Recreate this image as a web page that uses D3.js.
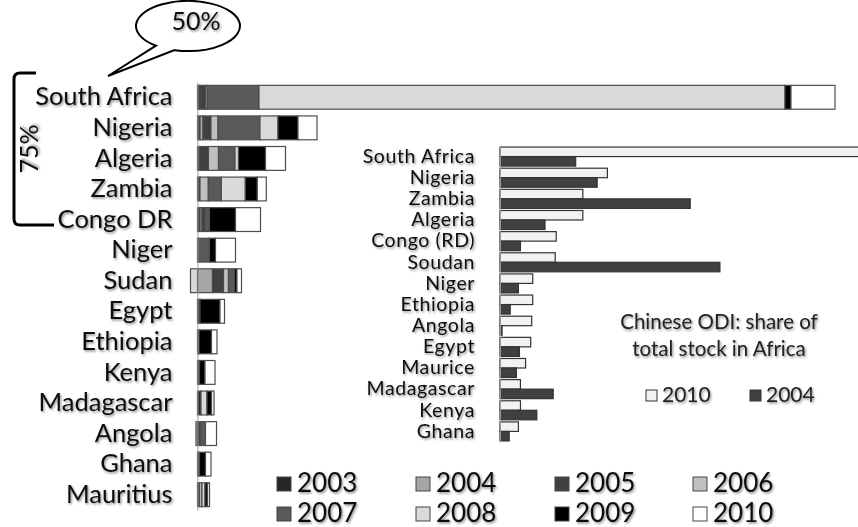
<!DOCTYPE html>
<html><head><meta charset="utf-8">
<script src="https://cdn.jsdelivr.net/npm/d3@7"></script>
<style>
body{margin:0;background:#fff;}
svg{display:block;font-family:Lato, "Open Sans", sans-serif;}
</style></head>
<body><div id="chart"></div>
<script>
// ---- main chart data (share units, stacked by year) ----
const countries = ["South Africa","Nigeria","Algeria","Zambia","Congo DR","Niger","Sudan","Egypt","Ethiopia","Kenya","Madagascar","Angola","Ghana","Mauritius"];
const years = ["2003","2004","2005","2006","2007","2008","2009","2010"];
const v2003 = [2.5, 2.5, 2,   2.5, 2.5, 1,  0,   2.5, 1.5, 2,   3.5, 0,    2,   2];
const v2004 = [0,   3,   0,   0,   2,   0,  15,  0,   0,   0,   0,   0,    0,   0];
const v2005 = [5.7, 8,   9,   0,   3,   0,  11,  0,   0,   0,   0,   3,    0,   0];
const v2006 = [1.6, 7,   10,  8.3, 0,   0,  5,   0,   0,   0,   0,   -1.5, 0,   2.5];
const v2007 = [51.7,42,  16.5,13,  4.5, 11, 6,   0,   0,   0,   0,   5,    0,   0];
const v2008 = [526, 18,  3.5, 24,  0,   0,  -7,  0,   0,   0,   6,   0,    0,   3];
const v2009 = [6,   20,  27,  12,  26,  6,  2.5, 20,  12.5,5.5, 4.5, 0,    6,   2.5];
const v2010 = [44,  19,  20,  9,   25,  20, 4.5, 4.5, 5.5, 10,  2.5, 11,   5.5, 2];
const yearColors = ["#262626","#a6a6a6","#404040","#bfbfbf","#595959","#d9d9d9","#000000","#ffffff"];

// ---- inset data: Chinese ODI share of total stock in Africa (%) ----
const insetCountries = ["South Africa","Nigeria","Zambia","Algeria","Congo (RD)","Soudan","Niger","Ethiopia","Angola","Egypt","Maurice","Madagascar","Kenya","Ghana"];
const share2010 = [50, 10.5, 8.1, 8.1, 5.5, 5.4, 3.2, 3.2, 3.1, 3.0, 2.5, 2.0, 2.0, 1.8];
const share2004 = [7.4, 9.5, 18.6, 4.4, 2.0, 21.5, 1.8, 1.0, 0.2, 1.9, 1.6, 5.2, 3.6, 0.9];
const insetSeries = ["2010","2004"];
const insetColors = ["#f2f2f2","#404040"];
const insetTitle = ["Chinese ODI: share of","total stock in Africa"];

const W = 858, H = 527;
const svg = d3.select("#chart").append("svg").attr("width", W).attr("height", H);
const defs = svg.append("defs");
const f = defs.append("filter").attr("id","sh").attr("x","-10%").attr("y","-20%").attr("width","130%").attr("height","150%");
f.append("feDropShadow").attr("dx",1.2).attr("dy",1.5).attr("stdDeviation",1).attr("flood-color","#000").attr("flood-opacity",0.45);

// ---- main stacked bars ----
const rows = countries.map((c,i)=>{
  const o = {country:c};
  [v2003,v2004,v2005,v2006,v2007,v2008,v2009,v2010].forEach((arr,k)=>o[years[k]]=arr[i]);
  return o;
});
const stack = d3.stack().keys(years).offset(d3.stackOffsetDiverging);
const series = stack(rows);
const x = d3.scaleLinear().domain([0,640]).range([197.5,837.5]);
const y = d3.scaleBand().domain(countries).range([82,510]).paddingInner(0.22).paddingOuter(0.11);
const color = d3.scaleOrdinal().domain(years).range(yearColors);

svg.append("g").selectAll("g").data(series).join("g")
  .attr("fill", d=>color(d.key))
  .selectAll("rect").data(d=>d.filter(s=>s[1]!==s[0])).join("rect")
  .attr("x", d=>x(Math.min(d[0],d[1])))
  .attr("width", d=>Math.abs(x(d[1])-x(d[0])))
  .attr("y", d=>y(d.data.country))
  .attr("height", y.bandwidth())
  .attr("stroke","#4d4d4d").attr("stroke-width",1.2);

const ya = svg.append("g").attr("transform",`translate(${x(0)},0)`)
  .call(d3.axisLeft(y).tickSize(0).tickPadding(25));
ya.select(".domain").attr("stroke","#999").attr("stroke-width",1);
ya.selectAll("text").attr("font-size",25.5).attr("font-family","Lato").attr("fill","#111").attr("filter","url(#sh)");

// ---- bracket + 75% ----
svg.append("path").attr("d","M36,73 L20,73 Q14,73 14,79 L14,219 Q14,225 20,225 L54,225")
  .attr("fill","none").attr("stroke","#000").attr("stroke-width",3);
svg.append("text").attr("transform","translate(38,149) rotate(-90)").attr("text-anchor","middle")
  .attr("font-size",25).attr("fill","#111").attr("filter","url(#sh)").text("75%");

// ---- speech bubble ----
const cx=188, cy=26, rx=52, ry=25, tip=[108,76];
const pA=[cx+rx*Math.cos(128*Math.PI/180), cy+ry*Math.sin(128*Math.PI/180)];
const pB=[cx+rx*Math.cos(105*Math.PI/180), cy+ry*Math.sin(105*Math.PI/180)];
svg.append("path").attr("d",`M${pA} L${tip} L${pB} A${rx},${ry} 0 1 0 ${pA} Z`)
  .attr("fill","#fff").attr("stroke","#000").attr("stroke-width",2);
svg.append("text").attr("x",196).attr("y",24).attr("text-anchor","middle").attr("dominant-baseline","middle")
  .attr("font-size",25).attr("fill","#111").attr("filter","url(#sh)").text("50%");

// ---- bottom legend ----
const legCols=[277,416,555,693], legRows=[484,514];
const lg = svg.append("g").selectAll("g").data(years).join("g")
  .attr("transform",(d,i)=>`translate(${legCols[i%4]},${legRows[Math.floor(i/4)]})`);
lg.append("rect").attr("x",0).attr("y",-7).attr("width",14).attr("height",14)
  .attr("fill",d=>color(d)).attr("stroke","#444").attr("stroke-width",1);
lg.append("text").attr("x",20).attr("y",1).attr("dominant-baseline","middle")
  .attr("font-size",26).attr("fill","#111").attr("filter","url(#sh)").text(d=>d);

// ---- inset chart ----
const x2 = d3.scaleLinear().domain([0,35]).range([500,858]);
const y2 = d3.scaleBand().domain(insetCountries).range([146,442]).paddingInner(0.1).paddingOuter(0.05);
const ys = d3.scaleBand().domain(insetSeries).range([0,y2.bandwidth()]);
const ic = d3.scaleOrdinal().domain(insetSeries).range(insetColors);
const insetRows = insetCountries.map((c,i)=>({country:c, "2010":share2010[i], "2004":share2004[i]}));
const ig = svg.append("g");
ig.selectAll("g").data(insetRows).join("g")
  .attr("transform",d=>`translate(0,${y2(d.country)})`)
  .selectAll("rect").data(d=>insetSeries.map(k=>({key:k,value:d[k]}))).join("rect")
  .attr("x",x2(0)).attr("y",d=>ys(d.key)).attr("height",ys.bandwidth())
  .attr("width",d=>x2(d.value)-x2(0))
  .attr("fill",d=>ic(d.key)).attr("stroke","#333").attr("stroke-width",1.2);
const ya2 = svg.append("g").attr("transform",`translate(${x2(0)},0)`)
  .call(d3.axisLeft(y2).tickSize(0).tickPadding(25));
ya2.select(".domain").attr("stroke","#999");
ya2.selectAll("text").attr("font-size",19.5).attr("letter-spacing",0.6).attr("font-family","Lato").attr("fill","#111").attr("filter","url(#sh)");

svg.append("g").selectAll("text").data(insetTitle).join("text")
  .attr("x",719).attr("y",(d,i)=>329+i*27).attr("text-anchor","middle")
  .attr("font-size",20.5).attr("fill","#222").attr("filter","url(#sh)").text(d=>d);
const il = svg.append("g").selectAll("g").data(insetSeries).join("g")
  .attr("transform",(d,i)=>`translate(${[646,750][i]},396)`);
il.append("rect").attr("x",0).attr("y",-6).attr("width",11).attr("height",11)
  .attr("fill",d=>ic(d)).attr("stroke","#333");
il.append("text").attr("x",16).attr("y",1).attr("dominant-baseline","middle")
  .attr("font-size",21).attr("fill","#222").attr("filter","url(#sh)").text(d=>d);
</script></body></html>
